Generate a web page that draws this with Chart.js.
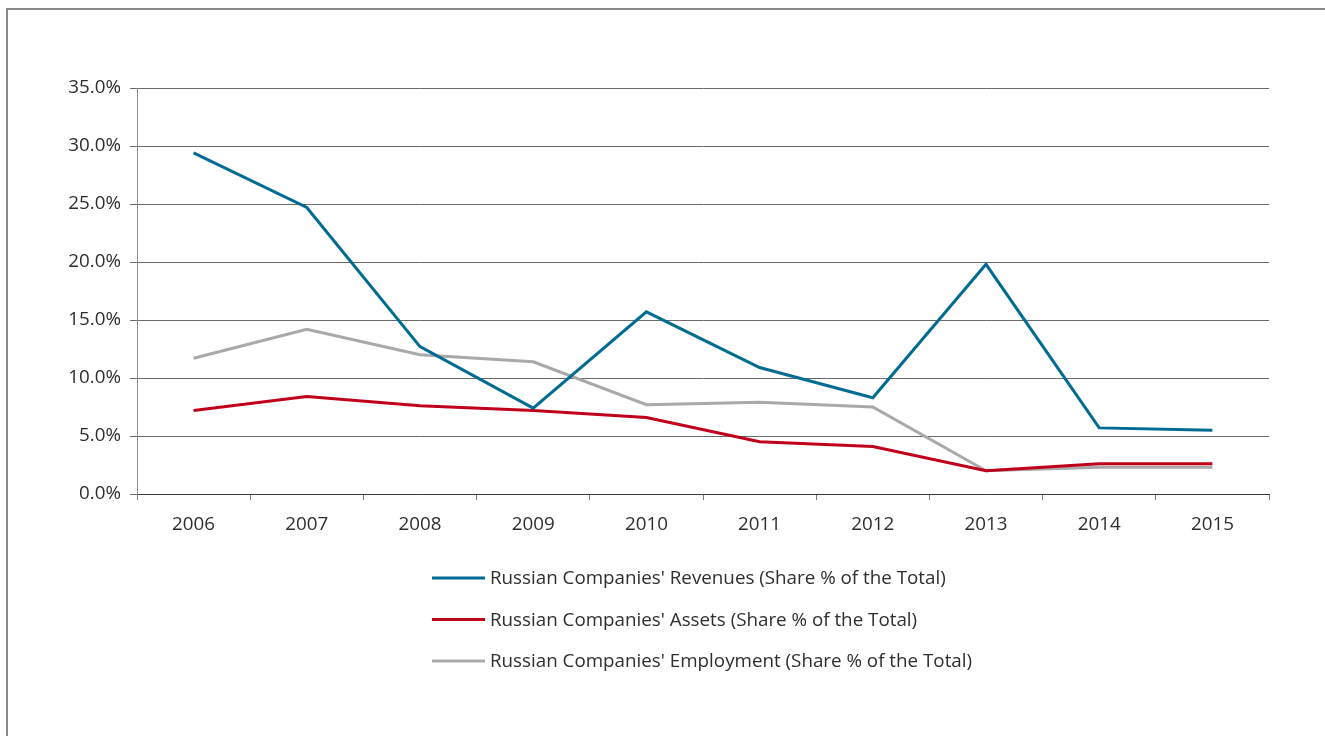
<!DOCTYPE html>
<html>
<head>
<meta charset="utf-8">
<script src="https://cdn.jsdelivr.net/npm/chart.js@4/dist/chart.umd.min.js"></script>
<style>
  html, body { margin: 0; padding: 0; background: #fff; overflow: hidden; }
  #frame { position: absolute; left: 6px; top: 8px; width: 1400px; height: 800px;
           border-left: 2px solid #8a8a8a; border-top: 2px solid #8a8a8a; }
  #wrap { position: absolute; left: 0; top: 0; width: 1325px; height: 736px; }
</style>
</head>
<body>
<div id="frame"></div>
<div id="wrap"><canvas id="chart"></canvas></div>
<script>
const years = ['2006', '2007', '2008', '2009', '2010', '2011', '2012', '2013', '2014', '2015'];
const revenues = [29.4, 24.7, 12.7, 7.4, 15.7, 10.9, 8.3, 19.8, 5.7, 5.5];
const assets = [7.2, 8.4, 7.6, 7.2, 6.6, 4.5, 4.1, 2.0, 2.6, 2.6];
const employment = [11.7, 14.2, 12.0, 11.4, 7.7, 7.9, 7.5, 2.0, 2.3, 2.3];
const seriesNames = [
  "Russian Companies' Revenues (Share % of the Total)",
  "Russian Companies' Assets (Share % of the Total)",
  "Russian Companies' Employment (Share % of the Total)"
];

const fontFamily = "'Open Sans', 'Noto Sans', sans-serif";
const textColor = '#2e2e2e';

// legend stacked under the plot, left aligned like the original
const stackedLegend = {
  id: 'stackedLegend',
  afterDraw(chart) {
    const ctx = chart.ctx;
    ctx.save();
    ctx.font = '18.8px ' + fontFamily;
    ctx.textBaseline = 'middle';
    chart.data.datasets.forEach((ds, i) => {
      const y = 578 + i * 41.5;
      ctx.strokeStyle = ds.borderColor;
      ctx.lineWidth = 3;
      ctx.beginPath();
      ctx.moveTo(432, y);
      ctx.lineTo(485, y);
      ctx.stroke();
      ctx.fillStyle = textColor;
      ctx.fillText(ds.label, 490, y + 1);
    });
    ctx.restore();
  }
};

const ctx = document.getElementById('chart').getContext('2d');
new Chart(ctx, {
  type: 'line',
  data: {
    labels: years,
    datasets: [
      { label: seriesNames[0], data: revenues, borderColor: '#006b93', borderWidth: 3, pointRadius: 0, tension: 0 },
      { label: seriesNames[1], data: assets, borderColor: '#c0001a', borderWidth: 3, pointRadius: 0, tension: 0 },
      { label: seriesNames[2], data: employment, borderColor: '#a9a9ab', borderWidth: 3, pointRadius: 0, tension: 0 }
    ]
  },
  options: {
    responsive: true,
    maintainAspectRatio: false,
    animation: false,
    layout: { padding: { left: 0, right: 56, top: 88, bottom: 192 } },
    plugins: {
      legend: { display: false },
      tooltip: { enabled: false }
    },
    scales: {
      x: {
        offset: true,
        grid: { display: true, offset: true, drawOnChartArea: false, tickLength: 6, color: '#7a7a7a', lineWidth: 1 },
        border: { color: '#3c3c3c', width: 1 },
        ticks: { color: textColor, font: { family: fontFamily, size: 18.8 }, padding: 13, maxRotation: 0 },
        afterFit(scale) { scale.height = 50; }
      },
      y: {
        min: 0,
        max: 35,
        grid: { color: '#6a6a6a', lineWidth: 1, tickLength: 7 },
        border: { color: '#8c8c8c', width: 1 },
        ticks: {
          stepSize: 5,
          color: textColor,
          font: { family: fontFamily, size: 18.8 },
          padding: 9,
          callback: v => v.toFixed(1) + '%'
        },
        afterFit(scale) { scale.width = 137; }
      }
    }
  },
  plugins: [stackedLegend]
});
</script>
</body>
</html>
